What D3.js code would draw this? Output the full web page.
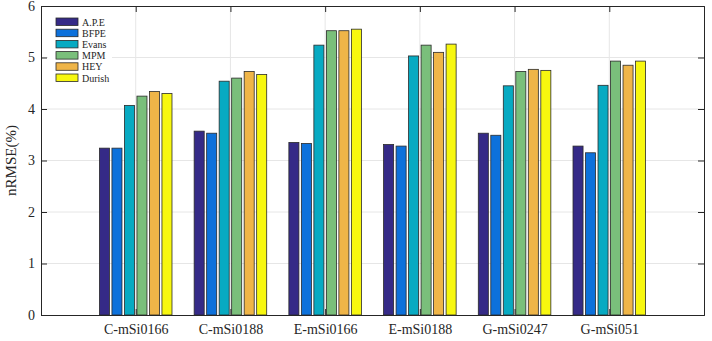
<!DOCTYPE html>
<html>
<head>
<meta charset="utf-8">
<script src="https://cdn.jsdelivr.net/npm/d3@7"></script>
<style>
  body { margin: 0; background: #fff; }
  text { font-family: "Liberation Serif", "Times New Roman", serif; fill: #262626; }
</style>
</head>
<body>
<div id="chart_container"></div>
<script>
const categories = ["C-mSi0166", "C-mSi0188", "E-mSi0166", "E-mSi0188", "G-mSi0247", "G-mSi051"];
const methods = ["A.P.E", "BFPE", "Evans", "MPM", "HEY", "Durish"];
const ape = [3.24, 3.57, 3.35, 3.31, 3.53, 3.28];
const bfpe = [3.24, 3.53, 3.33, 3.28, 3.49, 3.15];
const evans = [4.07, 4.54, 5.24, 5.03, 4.45, 4.46];
const mpm = [4.25, 4.60, 5.52, 5.24, 4.73, 4.93];
const hey = [4.34, 4.73, 5.52, 5.10, 4.77, 4.85];
const durish = [4.30, 4.67, 5.55, 5.26, 4.75, 4.93];
const yTicks = [0, 1, 2, 3, 4, 5, 6];

const series = [ape, bfpe, evans, mpm, hey, durish];
const colors = ["#352a87", "#0d71db", "#07aac2", "#7abf7b", "#efb548", "#f7f70f"];

const margin = { top: 6, right: 8, bottom: 26, left: 41 },
    width = 712 - margin.left - margin.right,
    height = 341 - margin.top - margin.bottom;

const svg = d3.select("#chart_container")
    .append("svg")
    .attr("width", 712)
    .attr("height", 341)
    .append("g")
    .attr("transform", `translate(${margin.left}, ${margin.top})`);

// category k sits at k+1 on a 0..7 axis
const x = d3.scaleLinear().domain([0, 7]).range([0, width]);
const y = d3.scaleLinear().domain([0, 6]).range([height, 0]);

const step = 0.132, barW = 0.106;

// grid
svg.append("g").selectAll("line.gy")
    .data(yTicks.slice(1, -1))
    .enter().append("line")
    .attr("x1", 0).attr("x2", width)
    .attr("y1", d => y(d)).attr("y2", d => y(d))
    .attr("stroke", "#e6e6e6");

svg.append("g").selectAll("line.gx")
    .data(categories)
    .enter().append("line")
    .attr("x1", (d, i) => x(i + 1)).attr("x2", (d, i) => x(i + 1))
    .attr("y1", 0).attr("y2", height)
    .attr("stroke", "#e6e6e6");

// bars
series.forEach(function (vals, s) {
    svg.append("g").selectAll("rect")
        .data(vals)
        .enter().append("rect")
        .attr("x", (d, i) => x(i + 1 + (s - 2.5) * step - barW / 2))
        .attr("y", d => y(d))
        .attr("width", x(barW) - x(0))
        .attr("height", d => height - y(d))
        .attr("fill", colors[s])
        .attr("stroke", "#2a2a2a")
        .attr("stroke-width", 0.8);
});

// axes
const axisL = svg.append("g")
    .call(d3.axisLeft(y).tickValues(yTicks).tickSize(-6).tickPadding(6).tickFormat(d3.format("d")));
const axisR = svg.append("g")
    .attr("transform", `translate(${width}, 0)`)
    .call(d3.axisRight(y).tickValues(yTicks).tickSize(-6).tickFormat(""));
const axisB = svg.append("g")
    .attr("transform", `translate(0, ${height})`)
    .call(d3.axisBottom(x).tickValues(d3.range(1, 7)).tickSize(-6).tickPadding(9)
        .tickFormat(d => categories[d - 1]));
const axisT = svg.append("g")
    .call(d3.axisTop(x).tickValues(d3.range(1, 7)).tickSize(-6).tickFormat(""));

[axisL, axisR, axisB, axisT].forEach(function (a) {
    a.select(".domain").attr("stroke", "#262626");
    a.selectAll(".tick line").attr("stroke", "#262626");
    a.selectAll("text").style("font-family", "Liberation Serif").style("font-size", "13px").attr("fill", "#262626");
});
axisB.selectAll("text").style("font-size", "14px");
axisL.selectAll("text").style("font-size", "14px");

svg.append("text")
    .attr("transform", `translate(-25, ${height / 2}) rotate(-90)`)
    .attr("text-anchor", "middle")
    .style("font-size", "15px")
    .text("nRMSE(%)");

// legend
const legend = svg.append("g").attr("transform", "translate(7, 11)");
legend.append("rect")
    .attr("x", 0).attr("y", 0).attr("width", 64).attr("height", 70)
    .attr("fill", "#fff");
methods.forEach(function (m, i) {
    legend.append("rect")
        .attr("x", 8).attr("y", 1 + i * 11.2)
        .attr("width", 22).attr("height", 7.5)
        .attr("fill", colors[i])
        .attr("stroke", "#2a2a2a")
        .attr("stroke-width", 0.8);
    legend.append("text")
        .attr("x", 34).attr("y", 8.5 + i * 11.2)
        .style("font-size", "10px")
        .text(m);
});
</script>
</body>
</html>
